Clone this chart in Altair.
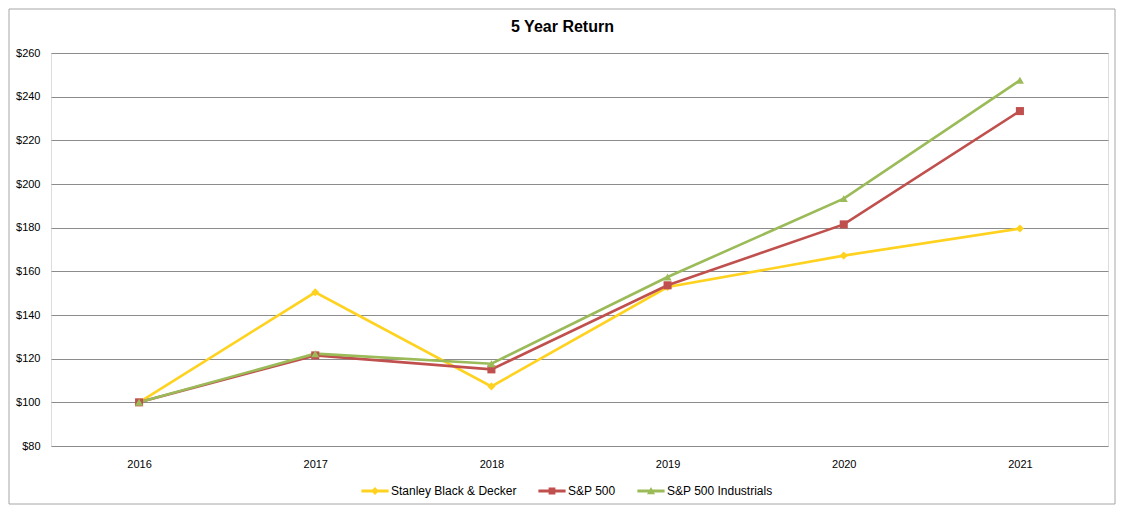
import altair as alt
import pandas as pd

years = ["2016", "2017", "2018", "2019", "2020", "2021"]
series_names = ["Stanley Black & Decker", "S&P 500", "S&P 500 Industrials"]
swk = [100, 150.4, 107.3, 152.8, 167.2, 179.6]
spx = [100, 121.5, 115.1, 153.6, 181.5, 233.4]
ind = [100, 122.3, 117.7, 157.4, 193.3, 247.5]
colors = ["#FFD21F", "#C0504D", "#9BBB59"]
marker_shapes = ["diamond", "square", "triangle-up"]
legend_shapes = [
    "M-3.4,-0.35H3.4V0.35H-3.4Z M0,-1L1,0L0,1L-1,0Z",
    "M-3.4,-0.35H3.4V0.35H-3.4Z M-0.85,-0.85H0.85V0.85H-0.85Z",
    "M-3.4,-0.35H3.4V0.35H-3.4Z M0,-1L1,0.8H-1Z",
]

rows = []
for name, vals in zip(series_names, [swk, spx, ind]):
    for y, v in zip(years, vals):
        rows.append({"Year": y, "Series": name, "Value": v})
df = pd.DataFrame(rows)

FONT = "Liberation Sans"
W, H = 1057, 393

x_enc = alt.X("Year:O", sort=years,
              scale=alt.Scale(type="point", padding=0.5),
              axis=alt.Axis(title=None, labelAngle=0, ticks=False, domain=False,
                            labelPadding=12, labelFontSize=11, labelColor="#000",
                            labelFont=FONT))
y_enc = alt.Y("Value:Q",
              scale=alt.Scale(domain=[80, 260], nice=False, zero=False),
              axis=alt.Axis(title=None, values=list(range(80, 261, 20)), format="$,.0f",
                            ticks=False, domain=False, labelPadding=11,
                            labelFontSize=11, labelColor="#000", labelFont=FONT,
                            grid=True, gridColor="#8C8C8C", gridWidth=1))

frame = alt.Chart(pd.DataFrame({"k": [0]})).mark_rect(
    fillOpacity=0, stroke="#A6A6A6", strokeWidth=1
).encode(
    x=alt.value(-42), x2=alt.value(W + 7),
    y=alt.value(-44), y2=alt.value(H + 58),
)

base = alt.Chart(df)

lines = base.mark_line(strokeWidth=2.6).encode(
    x=x_enc, y=y_enc,
    color=alt.Color("Series:N", scale=alt.Scale(domain=series_names, range=colors), legend=None),
)

points = base.mark_point(filled=True, opacity=1, size=65).encode(
    x=x_enc, y=y_enc,
    color=alt.Color("Series:N", scale=alt.Scale(domain=series_names, range=colors), legend=None),
    shape=alt.Shape("Series:N", scale=alt.Scale(domain=series_names, range=marker_shapes), legend=None),
)

legend_props = dict(title=None, orient="none", direction="horizontal",
                    legendX=318, legendY=432,
                    symbolSize=64, labelOffset=10, columnPadding=21,
                    labelFontSize=12, labelFont=FONT, labelColor="#000")

legend_layer = base.transform_filter("datum.Value < 0").mark_point(filled=True, opacity=1).encode(
    x=x_enc, y=y_enc,
    color=alt.Color("Series:N", scale=alt.Scale(domain=series_names, range=colors),
                    legend=alt.Legend(**legend_props)),
    shape=alt.Shape("Series:N", scale=alt.Scale(domain=series_names, range=legend_shapes),
                    legend=alt.Legend(**legend_props)),
)

chart = alt.layer(frame, lines, points, legend_layer).resolve_scale(
    color="independent", shape="independent"
).properties(
    width=W, height=H,
    autosize=alt.AutoSizeParams(type="none"),
    padding={"left": 43, "top": 45, "right": 8, "bottom": 60},
    title=alt.Title("5 Year Return", fontSize=16, fontWeight="bold", font=FONT,
                    color="#000", offset=0, dy=26, dx=-17),
).configure_view(stroke=None).configure(background="white")

chart.save("out.html", embed_options={"renderer": "svg", "actions": False})
